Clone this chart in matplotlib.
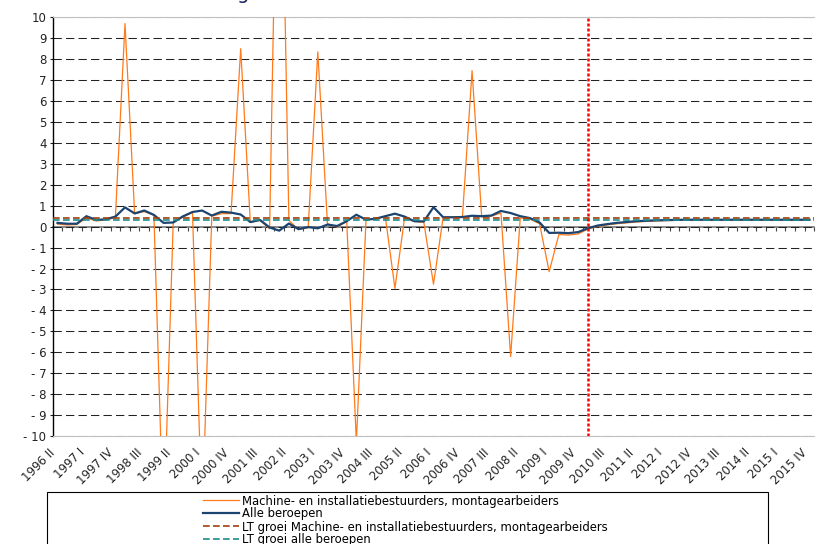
import matplotlib
matplotlib.use("Agg")
import matplotlib.pyplot as plt
import numpy as np
from matplotlib.patches import Rectangle
from matplotlib.transforms import ScaledTranslation

# kwartalen 1996 II t/m 2015 IV
romeins = ["I", "II", "III", "IV"]
kwartalen = [f"{j} {romeins[q]}" for j in range(1996, 2016) for q in range(4)][1:]

machine = [0.12, 0.08, 0.10, 0.42, 0.27, 0.33, 0.42, 9.70, 0.62, 0.72,
           0.55, -14.6, 0.20, 0.45, 0.68, -14.0, 0.50, 0.62, 0.62, 8.50,
           0.20, 0.30, -0.10, 25.0, 0.30, -0.14, -0.05, 8.35, 0.14, -0.02,
           0.25, -10.3, 0.32, 0.38, 0.48, -2.95, 0.42, 0.25, 0.20, -2.75,
           0.45, 0.45, 0.45, 7.45, 0.46, 0.50, 0.65, -6.20, 0.42, 0.36,
           0.14, -2.15, -0.38, -0.40, -0.35, -0.12, 0.01, 0.08, 0.14, 0.18,
           0.22, 0.25, 0.27, 0.29, 0.30, 0.31, 0.31, 0.31, 0.31, 0.31,
           0.31, 0.31, 0.31, 0.31, 0.31, 0.31, 0.31, 0.31, 0.31]

alle = [0.18, 0.14, 0.14, 0.50, 0.32, 0.35, 0.48, 0.92, 0.63, 0.77,
        0.56, 0.18, 0.20, 0.49, 0.70, 0.77, 0.53, 0.71, 0.67, 0.58,
        0.22, 0.32, -0.04, -0.19, 0.15, -0.12, -0.02, -0.08, 0.10, 0.03,
        0.26, 0.57, 0.33, 0.38, 0.50, 0.62, 0.48, 0.26, 0.25, 0.93,
        0.45, 0.45, 0.46, 0.52, 0.50, 0.53, 0.75, 0.65, 0.50, 0.41,
        0.20, -0.30, -0.29, -0.31, -0.26, -0.08, 0.05, 0.12, 0.18, 0.22,
        0.26, 0.28, 0.30, 0.31, 0.32, 0.33, 0.33, 0.33, 0.33, 0.33,
        0.33, 0.33, 0.33, 0.33, 0.33, 0.33, 0.33, 0.33, 0.33]

lt_machine = 0.40
lt_alle = 0.34
prognose_start = "2010 I"

namen = ["Machine- en installatiebestuurders, montagearbeiders",
         "Alle beroepen",
         "LT groei Machine- en installatiebestuurders, montagearbeiders",
         "LT groei alle beroepen"]

W, H = 821, 544
fig = plt.figure(figsize=(W / 100, H / 100), dpi=100)
ax = fig.add_axes([52.7 / W, 1 - 436 / H, (814.3 - 52.7) / W, (436 - 17.3) / H])

x = np.arange(len(kwartalen))
ax.plot(x, machine, color="#FF7A1A", lw=0.9, label=namen[0], zorder=3)
ax.plot(x, alle, color="#1C4470", lw=1.6, label=namen[1], zorder=4)
ax.axhline(lt_machine, color="#A0400A", lw=1.2, ls=(0, (4, 2)), label=namen[2], zorder=5)
ax.axhline(lt_alle, color="#1A8C8C", lw=1.2, ls=(0, (4, 2)), label=namen[3], zorder=5)
ax.axvline(kwartalen.index(prognose_start), color="#FF0000", lw=1.8,
           ls=(0, (1.2, 0.8)), zorder=6)

ax.set_xlim(-0.5, len(x) - 0.5)
ax.set_ylim(-10, 10)
yt = np.arange(-10, 11)
ax.set_yticks(yt, [f"- {abs(v)}" if v < 0 else str(v) for v in yt])
ax.grid(axis="y", color="#222222", lw=0.75, ls=(0, (8, 4)))
ax.set_axisbelow(True)

ax.spines["right"].set_visible(False)
ax.spines["top"].set_color("#c0c0c0")
ax.spines["bottom"].set_color("#c0c0c0")
ax.spines["left"].set_color("black")
ax.spines["left"].set_linewidth(1.0)

ax.set_xticks(x[::3], [kwartalen[i] for i in x[::3]], rotation=45, ha="right",
              va="center", rotation_mode="anchor")
ax.tick_params(axis="x", length=0, pad=10.5, labelsize=8.4, colors="#222222")
ax.tick_params(axis="y", length=2.5, width=0.8, pad=2, labelsize=8.5,
               colors="#222222")
schuif = ScaledTranslation(-4 / 100, 0, fig.dpi_scale_trans)
for lab in ax.get_xticklabels():
    lab.set_transform(lab.get_transform() + schuif)

# categorie-as door nul met streepjes tussen de kwartalen
nul = ax.secondary_xaxis(0, transform=ax.transData)
nul.set_xticks(np.arange(-0.5, len(x)))
nul.tick_params(length=3, width=0.8, color="#444444", labelbottom=False)
nul.spines["bottom"].set_color("#777777")
nul.spines["bottom"].set_linewidth(1.2)

fig.text(243 / W, 1 + 1 / H, "g", fontsize=14, color="#1F2360",
         ha="center", va="baseline")

fig.add_artist(Rectangle((47 / W, -0.05), (768 - 47) / W, 1 - 492 / H + 0.05,
                         transform=fig.transFigure, fill=False,
                         edgecolor="black", lw=0.8))
h, l = ax.get_legend_handles_labels()
fig.legend(h, l, loc="upper left", bbox_to_anchor=(203 / W, 1 - 494.5 / H),
           frameon=False, fontsize=8.4, handlelength=3.1, handletextpad=0.2,
           labelspacing=0.0, borderaxespad=0, borderpad=0)

plt.savefig("out.png", dpi=100)
